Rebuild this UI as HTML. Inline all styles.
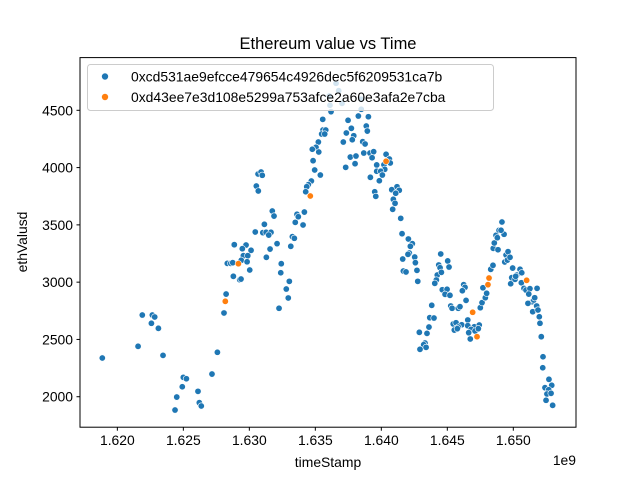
<!DOCTYPE html>
<html><head><meta charset="utf-8"><style>
body{margin:0;background:#fff}
svg{display:block;font-family:"Liberation Sans","DejaVu Sans",sans-serif}
</style></head><body>
<svg id="chart" width="640" height="480" viewBox="0 0 640 480">
<rect width="640" height="480" fill="#fff"/>
<text x="328" y="49" text-anchor="middle" font-size="16.5" fill="#000">Ethereum value vs Time</text>
<g id="marks"></g>
<g id="axes"></g>
<rect x="80" y="57.6" width="496" height="369.6" fill="none" stroke="#000" stroke-width="1"/>
<g>
<rect x="87.5" y="64.5" width="406" height="46" rx="3" fill="#fff" fill-opacity="0.8" stroke="#ccc"/>
<circle cx="105" cy="76.5" r="3.5" fill="#1f77b4" stroke="#fff" stroke-width="0.6"/>
<text x="131" y="81.5" font-size="13.9">0xcd531ae9efcce479654c4926dec5f6209531ca7b</text>
<circle cx="105" cy="97" r="3.5" fill="#ff7f0e" stroke="#fff" stroke-width="0.6"/>
<text x="131" y="102" font-size="13.9">0xd43ee7e3d108e5299a753afce2a60e3afa2e7cba</text>
</g>
<text x="328" y="467" text-anchor="middle" font-size="13.9">timeStamp</text>
<text x="27" y="242" text-anchor="middle" font-size="13.9" transform="rotate(-90 27 242)">ethValusd</text>
<text x="576" y="465" text-anchor="end" font-size="13.9">1e9</text>
</svg>
<script>
// timestamps in units of 1e6 seconds
const timesA=[1630.53,1630.68,1630.66,1630.89,1630.98,1631.74,1631.87,1631.14,1633.61,1633.71,1633.48,1630.45,1631.02,1631.27,1631.64,1631.47,1633.26,1633.41,1633.14,1632.10,1631.57,1628.86,1629.75,1629.47,1630.13,1629.55,1629.88,1631.29,1629.39,1629.83,1628.33,1628.59,1628.74,1632.42,1630.03,1632.38,1628.79,1629.27,1629.37,1633.03,1632.80,1628.24,1632.95,1632.25,1628.08,1621.89,1622.65,1622.83,1622.58,1623.11,1621.57,1618.86,1623.46,1627.58,1627.17,1625.00,1625.23,1624.92,1626.11,1624.50,1626.21,1626.36,1624.37,
1636.57,1636.77,1636.06,1636.11,1636.19,1637.02,1638.48,1638.48,1635.56,1638.26,1639.02,1637.48,1635.58,1635.79,1635.48,1635.71,1637.73,1637.35,1637.91,1637.80,1637.12,1638.86,1638.94,1635.23,1635.05,1634.77,1635.26,1638.59,1638.77,1638.67,1639.14,1639.42,1639.30,1637.65,1638.08,1638.01,1637.30,1634.83,1640.36,1640.61,1640.68,1640.20,1639.65,1640.26,1639.65,1639.95,1640.08,1634.95,1635.38,1639.17,1639.85,1634.70,1634.47,1634.35,1634.27,1641.19,1640.79,1641.36,1641.09,1639.50,1639.58,1640.91,1641.04,1640.86,1634.17,1634.07,1641.47,1641.57,1642.05,1642.35,1642.20,1642.12,1642.02,1642.53,1641.62,1642.58,1641.67,1641.87,1642.70,1642.76,1643.82,1643.67,1643.99,1643.61,1643.46,1642.88,1643.31,1643.21,1643.39,1642.93,
1644.50,1644.35,1644.45,1644.24,1644.55,1644.17,1644.05,1645.03,1645.13,1644.62,1644.98,1644.83,1645.20,1646.24,1646.34,1646.14,1646.42,1645.26,1645.36,1645.83,1645.96,1645.45,1645.66,1646.09,1646.55,1646.55,1645.83,1645.53,1645.76,1647.05,1647.42,1646.80,1647.10,1647.35,1646.62,1646.74,1647.50,1647.63,1647.88,1647.98,1647.70,1648.29,1648.46,1648.48,1648.84,1648.56,1648.69,1648.79,1649.30,1648.92,1649.07,1649.14,1649.45,1649.35,1649.55,1649.60,1649.75,1649.95,1649.80,1649.88,1650.13,1650.26,1650.51,1650.64,1650.18,1650.61,1650.81,1650.96,1651.26,1651.17,1651.42,1651.55,1651.11,1651.62,1651.80,1651.47,1651.77,1651.87,1651.97,1652.02,1652.12,1652.25,1652.23,1652.70,1652.91,1652.40,1652.68,1652.55,1652.86,1652.48,1652.98];
const valuesA=[3839,3796,3944,3961,3933,3621,3577,3505,3592,3571,3522,3438,3432,3435,3435,3411,3397,3383,3313,3336,3289,3327,3324,3292,3278,3231,3231,3217,3191,3178,3164,3164,3170,3161,3106,3082,3051,3021,3027,3007,2940,2896,2862,2772,2731,2713,2713,2696,2641,2597,2440,2338,2361,2388,2198,2169,2157,2087,2047,1997,1948,1919,1884,
4736,4671,4625,4544,4488,4561,4596,4509,4421,4450,4444,4413,4328,4328,4293,4293,4343,4302,4278,4243,4223,4363,4319,4223,4177,4160,4136,4226,4206,4127,4127,4139,4086,4092,4101,4034,4002,4060,4116,4075,4040,4025,4023,3985,3968,3968,3935,3979,3935,3915,3885,3883,3851,3833,3789,3833,3807,3802,3776,3789,3749,3723,3688,3636,3612,3499,3557,3423,3377,3336,3313,3254,3243,3219,3202,3170,3097,3089,3103,3007,2798,2690,2687,2608,2553,2562,2469,2454,2431,2414,
3246,3150,3126,3062,3086,3019,2990,3185,3132,2934,2938,2894,2885,2978,2955,2925,2841,2792,2772,2772,2786,2635,2646,2628,2670,2620,2608,2582,2594,2611,2626,2588,2574,2594,2559,2504,2777,2821,2864,2903,2951,3112,3147,3295,3283,3342,3409,3388,3418,3453,3453,3525,3237,3176,3193,3266,3217,3123,2986,3039,3025,3062,3112,3082,3051,2995,2946,2931,2943,2896,2829,2844,2815,2864,2946,2742,2792,2757,2698,2641,2524,2349,2253,2152,2100,2079,2061,2024,2030,1969,1925];
const timesB=[1629.17,1628.18,1634.62,1640.36,1646.92,1647.25,1648.08,1648.16,1651.01];
const valuesB=[3161,2833,3752,4055,2737,2524,2978,3036,3016];
const xTicks=[1620,1625,1630,1635,1640,1645,1650];
const xTickLabels=["1.620","1.625","1.630","1.635","1.640","1.645","1.650"];
const yTicks=[2000,2500,3000,3500,4000,4500];
const yTickLabels=["2000","2500","3000","3500","4000","4500"];

const L=80,R=576,T=57.6,B=427.2;
const xMin=1617.17,xMax=1654.75,yMin=1734,yMax=4960;
function xs(t){return L+(t-xMin)/(xMax-xMin)*(R-L);}
function ys(v){return B-(v-yMin)/(yMax-yMin)*(B-T);}
const NS="http://www.w3.org/2000/svg";
const marks=document.getElementById('marks');
const axes=document.getElementById('axes');
function dot(t,v,color,name){
  const c=document.createElementNS(NS,'circle');
  c.setAttribute('cx',xs(t));c.setAttribute('cy',ys(v));c.setAttribute('r',3.2);
  c.setAttribute('fill',color);c.setAttribute('stroke','#fff');c.setAttribute('stroke-width','0.6');
  
  
  marks.appendChild(c);
}
for(let i=0;i<timesA.length;i++) dot(timesA[i],valuesA[i],'#1f77b4','point-wallet-a');
for(let i=0;i<timesB.length;i++) dot(timesB[i],valuesB[i],'#ff7f0e','point-wallet-b');
xTicks.forEach((t,i)=>{
  const x=xs(t);
  const l=document.createElementNS(NS,'line');
  l.setAttribute('x1',x);l.setAttribute('x2',x);l.setAttribute('y1',B);l.setAttribute('y2',B+3.5);l.setAttribute('stroke','#000');
  
  
  axes.appendChild(l);
  const tx=document.createElementNS(NS,'text');
  tx.setAttribute('x',x);tx.setAttribute('y',B+18);tx.setAttribute('text-anchor','middle');tx.setAttribute('font-size','13.9');
  tx.textContent=xTickLabels[i];
  
  
  axes.appendChild(tx);
});
yTicks.forEach((v,i)=>{
  const y=ys(v);
  const l=document.createElementNS(NS,'line');
  l.setAttribute('x1',L-3.5);l.setAttribute('x2',L);l.setAttribute('y1',y);l.setAttribute('y2',y);l.setAttribute('stroke','#000');
  
  
  axes.appendChild(l);
  const tx=document.createElementNS(NS,'text');
  tx.setAttribute('x',L-7);tx.setAttribute('y',y+5);tx.setAttribute('text-anchor','end');tx.setAttribute('font-size','13.9');
  tx.textContent=yTickLabels[i];
  
  
  axes.appendChild(tx);
});
</script>
</body></html>
